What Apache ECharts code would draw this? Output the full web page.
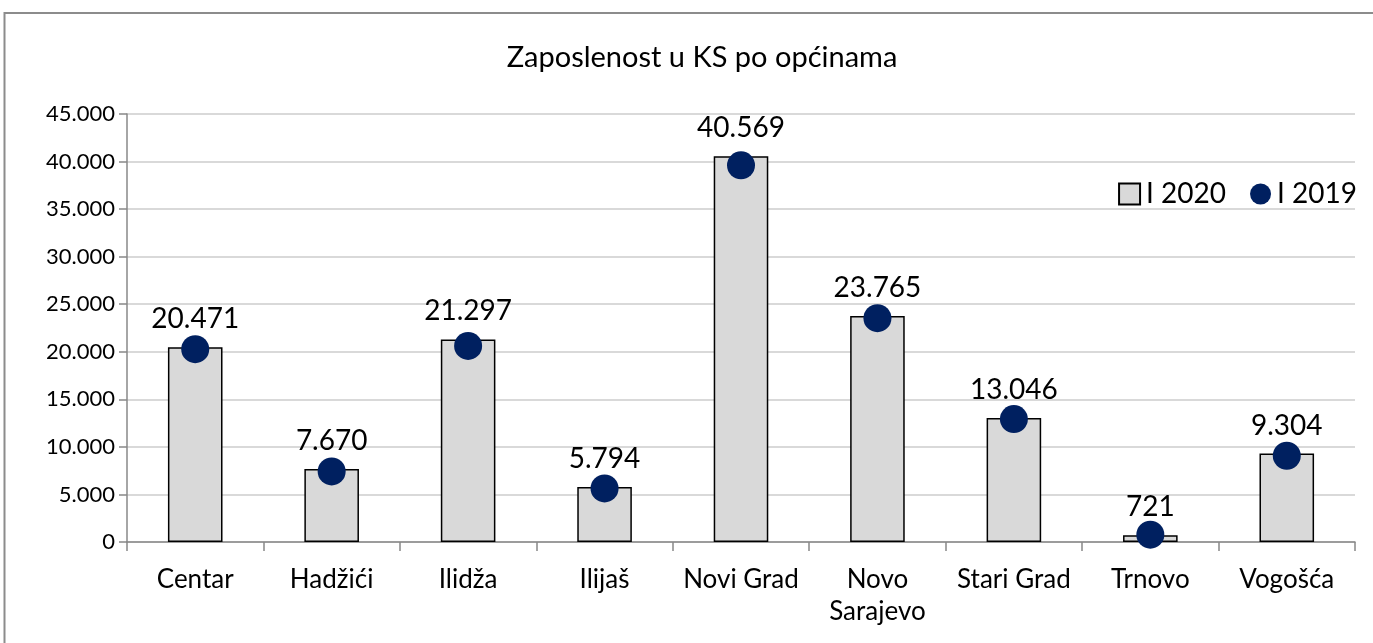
<!DOCTYPE html>
<html>
<head>
<meta charset="utf-8">
<script src="https://cdn.jsdelivr.net/npm/echarts@6/dist/echarts.min.js"></script>
<style>
  html, body { margin: 0; padding: 0; background: #fff; }
  #chart { width: 1373px; height: 643px; }
</style>
</head>
<body>
<div id="chart"></div>
<script>
var categories = ['Centar', 'Hadžići', 'Ilidža', 'Ilijaš', 'Novi Grad', 'Novo\nSarajevo', 'Stari Grad', 'Trnovo', 'Vogošća'];
var values2020 = [20471, 7670, 21297, 5794, 40569, 23765, 13046, 721, 9304];
// (no labels for these)
var values2019 = [20270, 7420, 20620, 5630, 39600, 23530, 12920, 770, 9070];

function fmt(v) {
    return String(v).replace(/\B(?=(\d{3})+(?!\d))/g, '.');
}

var fontName = 'Lato, "Open Sans", sans-serif';

var chart = echarts.init(document.getElementById('chart'));

chart.setOption({
    animation: false,
    textStyle: { fontFamily: fontName, color: '#000' },
    graphic: [{
        type: 'rect',
        shape: { x: 4.5, y: 13, width: 1400, height: 700 },
        style: { fill: 'none', stroke: '#8c8c8c', lineWidth: 2 },
        silent: true
    }],
    title: {
        text: 'Zaposlenost u KS po općinama',
        left: 697,
        textAlign: 'center',
        top: 38,
        textStyle: { fontFamily: fontName, fontSize: 29, fontWeight: 'normal', color: '#000' }
    },
    legend: {
        right: 11,
        top: 175,
        itemGap: 24,
        itemWidth: 21,
        itemHeight: 21,
        textStyle: { fontFamily: fontName, fontSize: 28, color: '#000', padding: [0, 0, 0, 1] },
        data: [
            { name: 'I 2020', icon: 'rect' },
            { name: 'I 2019', icon: 'circle' }
        ]
    },
    grid: { left: 127, right: 18, top: 114, bottom: 101 },
    xAxis: {
        type: 'category',
        data: categories,
        axisLine: { lineStyle: { color: '#888', width: 1.5 } },
        axisTick: { show: true, length: 9, alignWithLabel: false, lineStyle: { color: '#888', width: 1.5 } },
        axisLabel: { margin: 22, fontSize: 26, color: '#000', fontFamily: fontName, lineHeight: 32, interval: 0 }
    },
    yAxis: {
        type: 'value',
        min: 0,
        max: 45000,
        interval: 5000,
        axisLine: { show: true, lineStyle: { color: '#888', width: 1.5 } },
        axisTick: { show: true, length: 8, lineStyle: { color: '#888', width: 1.5 } },
        axisLabel: { margin: 12, fontSize: 22, color: '#000', fontFamily: fontName, formatter: fmt },
        splitLine: { lineStyle: { color: '#d9d9d9', width: 2 } }
    },
    series: [{
        name: 'I 2020',
        type: 'bar',
        data: values2020,
        barWidth: '40%',
        itemStyle: { color: '#d9d9d9', borderColor: '#000', borderWidth: 1.5 },
        label: {
            show: true,
            position: 'top',
            distance: 14,
            fontSize: 28,
            color: '#000',
            fontFamily: fontName,
            formatter: function (p) { return fmt(p.value); }
        },
        z: 2
    }, {
        name: 'I 2019',
        type: 'scatter',
        data: values2019,
        symbol: 'circle',
        symbolSize: 28,
        itemStyle: { color: '#002060', opacity: 1 },
        z: 3
    }]
});
</script>
</body>
</html>
